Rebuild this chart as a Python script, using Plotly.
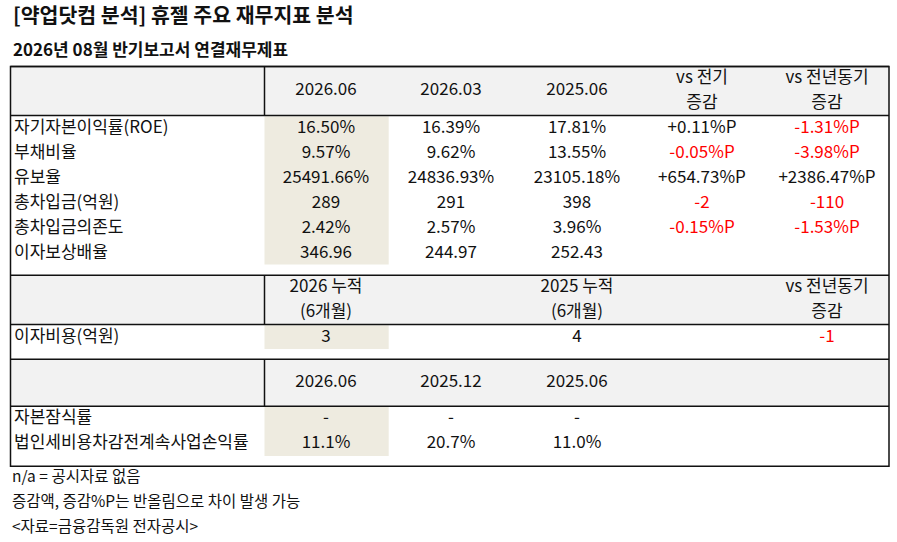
import plotly.graph_objects as go

# ---- data ----
title = '[약업닷컴 분석] 휴젤 주요 재무지표 분석'
subtitle = '2026년 08월 반기보고서 연결재무제표'

head1 = ['2026.06', '2026.03', '2025.06', 'vs 전기|증감', 'vs 전년동기|증감']
metrics1 = ['자기자본이익률(ROE)', '부채비율', '유보율', '총차입금(억원)', '총차입금의존도', '이자보상배율']
v2026_06 = ['16.50%', '9.57%', '25491.66%', '289', '2.42%', '346.96']
v2026_03 = ['16.39%', '9.62%', '24836.93%', '291', '2.57%', '244.97']
v2025_06 = ['17.81%', '13.55%', '23105.18%', '398', '3.96%', '252.43']
qoq = ['+0.11%P', '-0.05%P', '+654.73%P', '-2', '-0.15%P', '']
yoy = ['-1.31%P', '-3.98%P', '+2386.47%P', '-110', '-1.53%P', '']

head2 = ['2026 누적|(6개월)', '', '2025 누적|(6개월)', '', 'vs 전년동기|증감']
metrics2 = ['이자비용(억원)']
cum2026 = ['3']
cum2025 = ['4']
cum_yoy = ['-1']

head3 = ['2026.06', '2025.12', '2025.06', '', '']
metrics3 = ['자본잠식률', '법인세비용차감전계속사업손익률']
s3_2026_06 = ['-', '11.1%']
s3_2025_12 = ['-', '20.7%']
s3_2025_06 = ['-', '11.0%']

notes = ['n/a = 공시자료 없음', '증감액, 증감%P는 반올림으로 차이 발생 가능', '<자료=금융감독원 전자공시>']

# ---- layout geometry (pixels) ----
W, H = 897, 542
FONT = 'Noto Sans CJK KR'
LEFT, RIGHT, SPLIT, HL_RIGHT = 10.5, 889, 264.5, 388.7
col_x = [326, 451, 577, 702, 827]
label_x = 14
ROW_H = 25
BLACK = '#111111'
RED = '#ff0000'
GRAY = '#f2f2f2'
BEIGE = '#eeebe0'
CELL_SIZE = 17

# sections: header top, header bottom, first row center, beige band bottom
sections = [
    dict(top=66.5, hbot=115.5, row0=128.5, band=264.5,
         head=head1, labels=metrics1,
         cols=[v2026_06, v2026_03, v2025_06, qoq, yoy], signed=[3, 4]),
    dict(top=275.3, hbot=324.5, row0=337.5, band=349,
         head=head2, labels=metrics2,
         cols=[cum2026, [''], cum2025, [''], cum_yoy], signed=[4]),
    dict(top=359.3, hbot=406.3, row0=419, band=456,
         head=head3, labels=metrics3,
         cols=[s3_2026_06, s3_2025_12, s3_2025_06, ['', ''], ['', '']], signed=[]),
]
BOTTOM = 466.3

fig = go.Figure()
shapes = []


def add_text(xs, ys, texts, colors, size, pos='middle center', bold=False):
    fig.add_trace(go.Scatter(
        x=xs, y=ys, text=[f'<b>{t}</b>' if bold else t for t in texts],
        mode='text', textposition=pos, hoverinfo='skip', showlegend=False,
        cliponaxis=False,
        textfont=dict(family=FONT, size=size, color=colors)))


for sec in sections:
    top, hbot = sec['top'], sec['hbot']
    shapes.append(dict(type='rect', x0=LEFT, x1=RIGHT, y0=top, y1=hbot,
                       fillcolor=GRAY, line_width=0, layer='below'))
    shapes.append(dict(type='rect', x0=SPLIT, x1=HL_RIGHT, y0=hbot + 0.8, y1=sec['band'],
                       fillcolor=BEIGE, line_width=0, layer='below'))
    shapes.append(dict(type='line', x0=LEFT, x1=RIGHT, y0=top, y1=top,
                       line=dict(color=BLACK, width=1.5)))
    shapes.append(dict(type='line', x0=LEFT, x1=RIGHT, y0=hbot, y1=hbot,
                       line=dict(color=BLACK, width=1.5)))
    shapes.append(dict(type='line', x0=SPLIT, x1=SPLIT, y0=top, y1=hbot,
                       line=dict(color=BLACK, width=1.5)))

    # header texts
    hx, hy, ht = [], [], []
    mid = (top + hbot) / 2
    for cx, h in zip(col_x, sec['head']):
        if not h:
            continue
        parts = h.split('|')
        if len(parts) == 1:
            hx.append(cx); hy.append(mid); ht.append(parts[0])
        else:
            hx += [cx, cx]; hy += [mid - 12, mid + 12.5]; ht += parts
    add_text(hx, hy, ht, BLACK, CELL_SIZE)

    # row labels
    ys = [sec['row0'] + ROW_H * i for i in range(len(sec['labels']))]
    add_text([label_x] * len(ys), ys, sec['labels'], BLACK, CELL_SIZE, pos='middle right')

    # values
    for ci, (cx, vals) in enumerate(zip(col_x, sec['cols'])):
        colors = [RED if (ci in sec['signed'] and v.startswith('-')) else BLACK for v in vals]
        add_text([cx] * len(vals), ys[:len(vals)], vals, colors, CELL_SIZE)

# outer frame
shapes.append(dict(type='rect', x0=LEFT, x1=RIGHT, y0=66.5, y1=BOTTOM,
                   line=dict(color=BLACK, width=1.5), fillcolor='rgba(0,0,0,0)'))

# titles and notes
add_text([13], [18], [title], BLACK, 20.5, pos='middle right', bold=True)
add_text([13], [52], [subtitle], BLACK, 17, pos='middle right', bold=True)
add_text([12] * len(notes), [478 + 25 * i for i in range(len(notes))], notes, BLACK, 15.5,
         pos='middle right')

fig.update_layout(
    width=W, height=H, margin=dict(l=0, r=0, t=0, b=0),
    paper_bgcolor='white', plot_bgcolor='white',
    xaxis=dict(range=[0, W], visible=False, fixedrange=True),
    yaxis=dict(range=[H, 0], visible=False, fixedrange=True),
    shapes=shapes, font=dict(family=FONT),
)

# page body has a default margin; drop it so the figure fills the window
fig.write_html('out.html', config={'displayModeBar': False},
               post_script="document.body.style.margin='0';")
